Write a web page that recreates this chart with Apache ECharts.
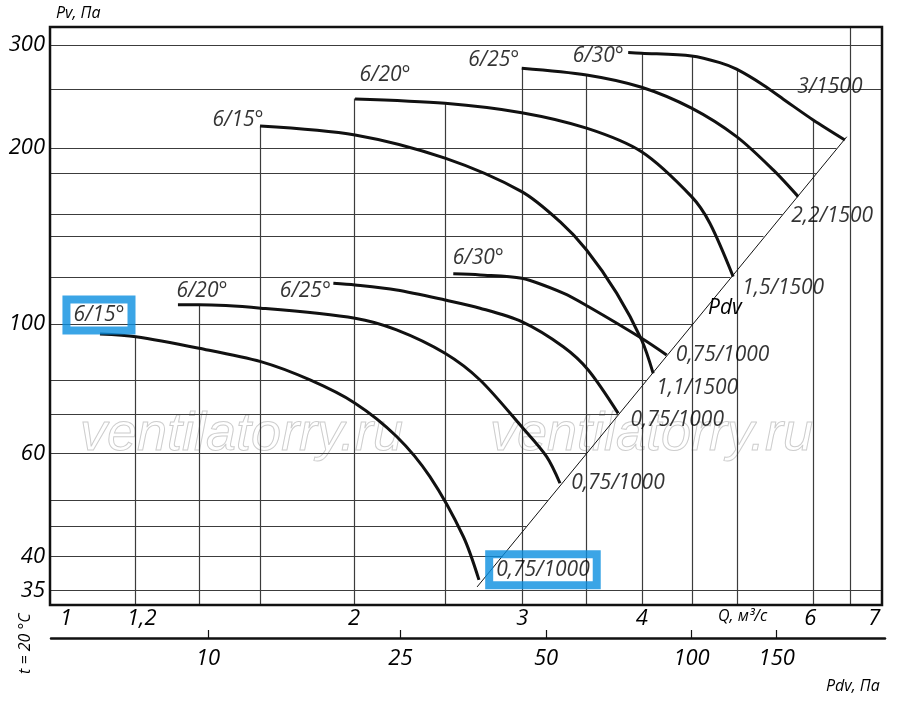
<html>

<head>
    <meta charset='utf-8' />
    <script src="https://cdn.jsdelivr.net/npm/echarts@6/dist/echarts.min.js"></script>
    <title>Pv - Q</title>
    <style>
        html,
        body {
            margin: 0;
            padding: 0;
            background: #fff;
            overflow: hidden;
        }

        #chart {
            width: 900px;
            height: 707px;
        }
    </style>
</head>

<body>
    <div id="chart"></div>
    <script type="text/javascript">
        // axis ranges and tick labels
        var qMin = 0.962, qMax = 7.13;
        var pMin = 33.06, pMax = 322;
        var pdvMin = 4.735, pdvMax = 251.2;
        var qTicks = [1, 1.2, 2, 3, 4, 6, 7];
        var pTicks = [35, 40, 60, 100, 200, 300];
        var pdvTicks = [10, 25, 50, 100, 150];

        // grid lines: vertical ones run from their top Pv down to the bottom,
        // horizontal ones from the left edge to the Q where they stop
        var vGridQ = [1.18, 1.377, 1.595, 2.0, 2.49, 3.0, 3.5, 4.0, 4.51, 5.03, 6.04, 6.61];
        var vGridTop = [95, 107.8, 218, 243, 238.5, 274, 266, 291, 287, 272, 223, 322];
        var hGridP = [300, 252, 200, 181, 154, 141, 120, 100, 80, 70, 60, 50, 45, 40, 35];
        var hGridEnd = [7.13, 7.13, 6.39, 6.08, 5.61, 5.36, 4.95, 4.52, 4.04, 3.78, 3.5, 3.19, 3.03, 2.86, 7.13];

        // Pdv line
        var pdvLineQ = [2.69, 6.55];
        var pdvLineP = [35.5, 209];

        // curves, 1000 rpm
        var lo15Q = [1.085, 1.183, 1.377, 1.598, 1.799, 2.005, 2.216, 2.401, 2.602, 2.702];
        var lo15P = [96.1, 95.1, 90.9, 86.2, 80.2, 73.2, 64.2, 54.8, 43.3, 36.5];
        var lo20Q = [1.309, 1.377, 1.598, 2.005, 2.216, 2.49, 2.709, 2.995, 3.18, 3.284];
        var lo20P = [107.8, 107.8, 106.4, 102.3, 97.7, 89.1, 80.2, 66.7, 59.3, 53.4];
        var lo25Q = [1.903, 2.005, 2.216, 2.49, 2.709, 2.995, 3.31, 3.515, 3.778];
        var lo25P = [117.4, 116.6, 114.3, 109.9, 106.4, 100.9, 91.4, 83.4, 70.3];
        var lo30Q = [2.54, 2.709, 2.995, 3.31, 3.515, 3.997, 4.245];
        var lo30P = [121.8, 121.3, 119.7, 112.9, 107.1, 94.5, 88.5];

        // curves, 1500 rpm
        var up15Q = [1.595, 2.005, 2.49, 2.995, 3.284, 3.501, 3.764, 3.997, 4.11];
        var up15P = [218.1, 210.5, 192.1, 168.4, 149.6, 133.8, 112.9, 93.9, 82.3];
        var up20Q = [2.005, 2.49, 2.995, 3.501, 3.997, 4.508, 4.711, 4.983];
        var up20P = [242.6, 238.5, 229.8, 216.2, 197, 165.1, 148.7, 120.5];
        var up25Q = [2.995, 3.501, 3.997, 4.508, 5.024, 5.487, 5.827];
        var up25P = [273.8, 266.6, 254, 233.9, 209.1, 183.4, 165.1];
        var up30Q = [3.87, 3.997, 4.508, 4.826, 5.024, 5.356, 5.666, 6.041, 6.52];
        var up30P = [291.1, 290.4, 287.3, 279.9, 272.7, 256.3, 240.2, 223.3, 206.4];

        var startNames = ['6/15°', '6/20°', '6/25°', '6/30°', '6/15°', '6/20°', '6/25°', '6/30°'];
        var endNames = ['0,75/1000', '0,75/1000', '0,75/1000', '0,75/1000', '1,1/1500', '1,5/1500', '2,2/1500', '3/1500'];

        var curvesQ = [lo15Q, lo20Q, lo25Q, lo30Q, up15Q, up20Q, up25Q, up30Q];
        var curvesP = [lo15P, lo20P, lo25P, lo30P, up15P, up20P, up25P, up30P];

        // where the names sit relative to the curve ends, px
        var startOffsets = [[-1, -19], [24, -14], [-28, 8], [25, -16], [-22, -6], [30, -24], [-28, -8], [-30, 3]];
        var endOffsets = [[64, -10], [58, 0], [59, 7], [56, 0], [44, 15], [50, 11], [34, 19], [-15, -53]];
        var boxed = { '0s': true, '0e': true };

        var ink = '#000';
        var font = '"Open Sans", "Noto Sans", sans-serif';

        function zip(a, b) {
            return a.map(function(v, i) {
                return [v, b[i]];
            });
        }

        function comma(v) {
            return String(+v.toFixed(3)).replace('.', ',');
        }

        var series = [];

        // grid lines
        var gridLines = [];
        vGridQ.forEach(function(q, i) {
            gridLines.push({ coords: [[q, vGridTop[i]], [q, pMin]] });
        });
        hGridP.forEach(function(p, i) {
            gridLines.push({ coords: [[qMin, p], [hGridEnd[i], p]] });
        });
        series.push({
            type: 'lines',
            coordinateSystem: 'cartesian2d',
            silent: true,
            z: 1,
            lineStyle: { color: '#3c3c3c', width: 1.2, opacity: 1 },
            data: gridLines
        });

        // Pdv line
        series.push({
            type: 'line',
            data: zip(pdvLineQ, pdvLineP),
            showSymbol: false,
            silent: true,
            z: 2,
            lineStyle: { color: '#111', width: 1 }
        });

        curvesQ.forEach(function(qs, i) {
            series.push({
                type: 'line',
                data: zip(qs, curvesP[i]),
                smooth: 0.3,
                showSymbol: false,
                silent: true,
                z: 3,
                lineStyle: { color: '#111', width: 3 }
            });
        });

        // curve names
        var labelData = [];
        curvesQ.forEach(function(qs, i) {
            var ps = curvesP[i];
            var n = qs.length - 1;
            [
                [qs[0], ps[0], startNames[i], startOffsets[i], boxed[i + 's']],
                [qs[n], ps[n], endNames[i], endOffsets[i], boxed[i + 'e']]
            ].forEach(function(d) {
                var lab = {
                    show: true,
                    formatter: d[2],
                    position: d[3],
                    align: 'center',
                    verticalAlign: 'middle',
                    color: ink,
                    fontSize: 21,
                    fontStyle: 'italic',
                    fontFamily: font
                };
                if (d[4]) {
                    lab.borderColor = '#0a8ee0';
                    lab.borderWidth = 4;
                    lab.padding = [6, 7, 4, 7];
                    lab.backgroundColor = 'rgba(255,255,255,0)';
                }
                labelData.push({ value: [d[0], d[1]], label: lab });
            });
        });
        series.push({
            type: 'scatter',
            data: labelData,
            symbolSize: 0,
            silent: true,
            z: 5
        });

        var chart = echarts.init(document.getElementById('chart'), null, { renderer: 'canvas' });
        chart.setOption({
            animation: false,
            backgroundColor: '#fff',
            grid: [{
                left: 50,
                right: 18,
                top: 27,
                bottom: 102,
                show: true,
                borderColor: '#111',
                borderWidth: 2.5,
                z: 10
            }, {
                left: 51,
                right: 15,
                top: 637,
                height: 1
            }],
            xAxis: [{
                type: 'log',
                gridIndex: 0,
                min: qMin,
                max: qMax,
                axisLine: { show: false },
                axisTick: { show: false },
                splitLine: { show: false },
                axisLabel: {
                    customValues: qTicks,
                    formatter: comma,
                    color: ink,
                    fontSize: 22,
                    fontStyle: 'italic',
                    fontFamily: font,
                    margin: 3
                }
            }, {
                type: 'log',
                gridIndex: 1,
                min: pdvMin,
                max: pdvMax,
                axisLine: { show: true, lineStyle: { color: '#111', width: 2.5 } },
                axisTick: { show: true, customValues: pdvTicks, inside: true, length: 8, lineStyle: { color: '#111', width: 1.2 } },
                splitLine: { show: false },
                axisLabel: {
                    customValues: pdvTicks,
                    formatter: comma,
                    color: ink,
                    fontSize: 22,
                    fontStyle: 'italic',
                    fontFamily: font,
                    margin: 10
                }
            }],
            yAxis: [{
                type: 'log',
                gridIndex: 0,
                min: pMin,
                max: pMax,
                axisLine: { show: false },
                axisTick: { show: false },
                splitLine: { show: false },
                axisLabel: {
                    customValues: pTicks,
                    color: ink,
                    fontSize: 22,
                    fontStyle: 'italic',
                    fontFamily: font,
                    margin: 5
                }
            }, {
                type: 'value',
                gridIndex: 1,
                show: false
            }],
            graphic: [{
                type: 'text',
                left: 56,
                top: 5,
                style: { text: 'Pv, Па', fill: ink, font: 'italic 16px ' + font }
            }, {
                type: 'text',
                left: 718,
                top: 608,
                style: { text: 'Q, м³/с', fill: ink, font: 'italic 16px ' + font }
            }, {
                type: 'text',
                left: 826,
                top: 678,
                style: { text: 'Pdv, Па', fill: ink, font: 'italic 16px ' + font }
            }, {
                type: 'text',
                x: 17,
                y: 674,
                rotation: Math.PI / 2,
                style: { text: 't = 20 °C', fill: ink, font: 'italic 16px ' + font }
            }, {
                type: 'text',
                x: 708,
                y: 298,
                z: 20,
                style: { text: 'Pdv', fill: ink, font: 'italic 21px ' + font }
            }, {
                type: 'text',
                x: 80,
                y: 408,
                z: 0,
                style: { text: 'ventilatorry.ru', fill: 'rgba(0,0,0,0)', stroke: '#cdcdcd', lineWidth: 1, font: 'italic 54px "Liberation Sans", sans-serif' }
            }, {
                type: 'text',
                x: 490,
                y: 408,
                z: 0,
                style: { text: 'ventilatorry.ru', fill: 'rgba(0,0,0,0)', stroke: '#cdcdcd', lineWidth: 1, font: 'italic 54px "Liberation Sans", sans-serif' }
            }],
            series: series
        });
    </script>
</body>

</html>
